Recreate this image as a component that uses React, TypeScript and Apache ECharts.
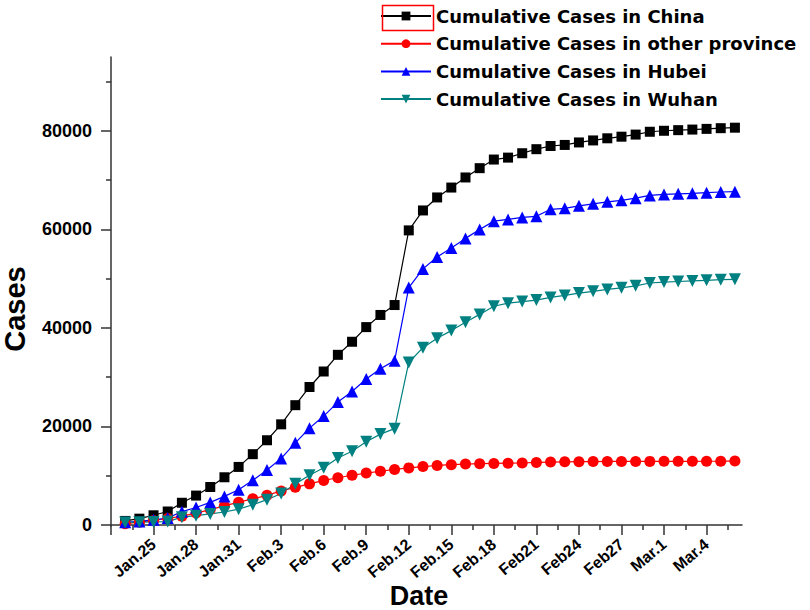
import React, { useEffect, useRef } from "react";
import * as echarts from "echarts";

// Day index: Jan 22 = 0, Jan 23 = 1, ... Mar 6 = 44
const days = [
  1, 2, 3, 4, 5, 6, 7, 8, 9, 10, 11, 12, 13, 14, 15, 16, 17, 18, 19, 20, 21, 22,
  23, 24, 25, 26, 27, 28, 29, 30, 31, 32, 33, 34, 35, 36, 37, 38, 39, 40, 41, 42, 43, 44,
];

const china = [
  830, 1287, 1975, 2744, 4515, 5974, 7711, 9692, 11791,
  14380, 17205, 20438, 24324, 28018, 31161, 34546, 37198, 40171, 42638,
  44653, 59804, 63851, 66492, 68500, 70548, 72436, 74185, 74576, 75465,
  76288, 76936, 77150, 77658, 78064, 78497, 78824, 79251, 79824,
  80026, 80151, 80270, 80409, 80552, 80651,
];

const otherProvince = [
  281, 558, 923, 1321, 1801, 2420, 3125, 3886, 4638,
  5306, 6028, 6916, 7646, 8353, 9049, 9593, 10098, 10540, 10910,
  11287, 11598, 11865, 12086, 12251, 12366, 12447, 12503, 12545, 12590,
  12700, 12780, 12830, 12850, 12877, 12901, 12910, 12914, 12917,
  12923, 12934, 12938, 12943, 12960, 12985,
];

const hubei = [
  549, 729, 1052, 1423, 2714, 3554, 4586, 5806, 7153,
  9074, 11177, 13522, 16678, 19665, 22112, 24953, 27100, 29631, 31728,
  33366, 48206, 51986, 54406, 56249, 58182, 59989, 61682, 62031, 62442,
  62662, 64084, 64287, 64786, 65187, 65596, 65914, 66337, 66907,
  67103, 67217, 67332, 67466, 67592, 67666,
];

const wuhan = [
  495, 572, 618, 698, 1590, 1905, 2261, 2639, 3215,
  4109, 5142, 6384, 8351, 10117, 11618, 13603, 14982, 16902, 18454,
  19558, 32994, 35991, 37914, 39462, 41152, 42752, 44412, 45027, 45346,
  45660, 46201, 46607, 47071, 47441, 47824, 48137, 48557, 49122,
  49315, 49426, 49540, 49671, 49797, 49871,
];

const seriesNames = [
  "Cumulative Cases in China",
  "Cumulative Cases in other province",
  "Cumulative Cases in Hubei",
  "Cumulative Cases in Wuhan",
];

const xLabelDays = [3, 6, 9, 12, 15, 18, 21, 24, 27, 30, 33, 36, 39, 42];
const xLabelTexts = [
  "Jan.25", "Jan.28", "Jan.31", "Feb.3", "Feb.6", "Feb.9", "Feb.12",
  "Feb.15", "Feb.18", "Feb21", "Feb24", "Feb27", "Mar.1", "Mar.4",
];
const xMajorTicks = [0, 3, 6, 9, 12, 15, 18, 21, 24, 27, 30, 33, 36, 39, 42];
const xMinorTicks = [
  1.5, 4.5, 7.5, 10.5, 13.5, 16.5, 19.5, 22.5, 25.5, 28.5, 31.5, 34.5, 37.5,
  40.5, 43.5,
];
const yMajorTicks = [0, 20000, 40000, 60000, 80000];
const yMinorTicks = [10000, 30000, 50000, 70000, 90000];

const AXIS_COLOR = "#333333";
const FONT = "Liberation Sans";

export default function App() {
  const ref = useRef<HTMLDivElement>(null);

  useEffect(() => {
    document.body.style.margin = "0";
    if (!ref.current) return;
    const chart = echarts.init(ref.current, undefined, { renderer: "svg" });

    const toPairs = (vals: number[]) => days.map((d, i) => [d, vals[i]]);

    const axisLineStyle = { color: AXIS_COLOR, width: 1.5 };

    chart.setOption({
      animation: false,
      backgroundColor: "#ffffff",
      grid: { left: 111, right: 68, top: 57, bottom: 84, containLabel: false },
      legend: {
        orient: "vertical",
        left: 380,
        top: 6,
        padding: 0,
        itemWidth: 50,
        itemHeight: 11,
        itemGap: 7.7,
        data: seriesNames,
        textStyle: {
          fontFamily: "DejaVu Sans",
          fontWeight: "bold",
          fontSize: 18,
          lineHeight: 20,
          color: "#000",
        },
      },
      xAxis: [
        {
          type: "value",
          min: 0,
          max: 44.5,
          position: "bottom",
          axisLine: { show: true, lineStyle: axisLineStyle },
          axisTick: {
            show: true,
            inside: false,
            length: 10,
            customValues: xMajorTicks,
            lineStyle: axisLineStyle,
          },
          axisLabel: {
            show: true,
            customValues: xLabelDays,
            formatter: (v: number) => {
              const idx = xLabelDays.indexOf(Math.round(v));
              return idx >= 0 ? xLabelTexts[idx] : "";
            },
            rotate: 40,
            margin: 16,
            fontFamily: FONT,
            fontWeight: "bold",
            fontSize: 16,
            color: "#000",
          },
          splitLine: { show: false },
        },
        {
          type: "value",
          min: 0,
          max: 44.5,
          position: "bottom",
          axisLine: { show: false },
          axisTick: {
            show: true,
            inside: false,
            length: 5,
            customValues: xMinorTicks,
            lineStyle: axisLineStyle,
          },
          axisLabel: { show: false },
          splitLine: { show: false },
        },
      ],
      yAxis: [
        {
          type: "value",
          min: -200,
          max: 95000,
          position: "left",
          axisLine: { show: true, lineStyle: axisLineStyle },
          axisTick: {
            show: true,
            inside: false,
            length: 10,
            customValues: yMajorTicks,
            lineStyle: axisLineStyle,
          },
          axisLabel: {
            show: true,
            customValues: yMajorTicks,
            formatter: (v: number) => String(Math.round(v)),
            margin: 19,
            fontFamily: FONT,
            fontWeight: "bold",
            fontSize: 18,
            color: "#000",
          },
          splitLine: { show: false },
        },
        {
          type: "value",
          min: -200,
          max: 95000,
          position: "left",
          axisLine: { show: false },
          axisTick: {
            show: true,
            inside: false,
            length: 5,
            customValues: yMinorTicks,
            lineStyle: axisLineStyle,
          },
          axisLabel: { show: false },
          splitLine: { show: false },
        },
      ],
      series: [
        {
          name: seriesNames[0],
          type: "line",
          data: toPairs(china),
          symbol: "rect",
          symbolSize: 10,
          color: "#000000",
          lineStyle: { color: "#000000", width: 1.2 },
          itemStyle: { color: "#000000" },
        },
        {
          name: seriesNames[1],
          type: "line",
          data: toPairs(otherProvince),
          symbol: "circle",
          symbolSize: 11,
          color: "#ff0000",
          lineStyle: { color: "#ff0000", width: 1.2 },
          itemStyle: { color: "#ff0000" },
        },
        {
          name: seriesNames[2],
          type: "line",
          data: toPairs(hubei),
          symbol: "triangle",
          symbolSize: 12,
          color: "#0000ff",
          lineStyle: { color: "#0000ff", width: 1.2 },
          itemStyle: { color: "#0000ff" },
        },
        {
          name: seriesNames[3],
          type: "line",
          data: toPairs(wuhan),
          symbol: "triangle",
          symbolRotate: 180,
          symbolSize: 12,
          color: "#008080",
          lineStyle: { color: "#008080", width: 1.2 },
          itemStyle: { color: "#008080" },
        },
      ],
      graphic: [
        {
          type: "rect",
          left: 380,
          top: 3,
          shape: { width: 51, height: 25 },
          style: { fill: "none", stroke: "#ff0000", lineWidth: 1.5 },
          z: 100,
        },
        {
          type: "text",
          x: 15,
          y: 309,
          rotation: Math.PI / 2,
          style: {
            text: "Cases",
            fontFamily: FONT,
            fontWeight: "bold",
            fontSize: 29,
            fill: "#000",
            align: "center",
            verticalAlign: "middle",
          },
        },
        {
          type: "text",
          x: 419,
          y: 596,
          style: {
            text: "Date",
            fontFamily: FONT,
            fontWeight: "bold",
            fontSize: 27,
            fill: "#000",
            align: "center",
            verticalAlign: "middle",
          },
        },
      ],
    });

    return () => {
      chart.dispose();
    };
  }, []);

  return <div ref={ref} style={{ width: 810, height: 610 }} />;
}
